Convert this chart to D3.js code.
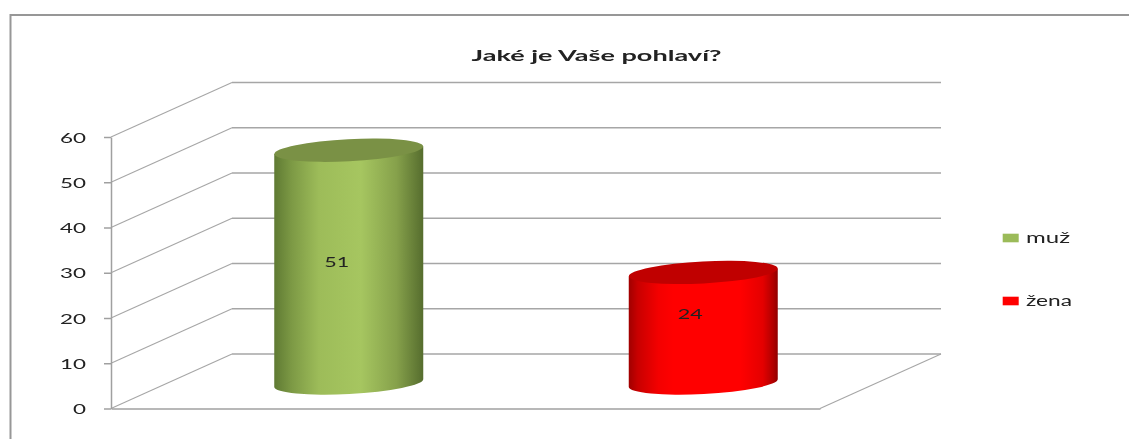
<!DOCTYPE html>
<html>
<head>
<meta charset="utf-8">
<script src="https://cdn.jsdelivr.net/npm/d3@7"></script>
<style>
    html, body { margin: 0; padding: 0; background: #fff; overflow: hidden; }
    svg { display: block; filter: blur(0.5px); }
    text { font-family: Lato, "DejaVu Sans", sans-serif; fill: #222; }
</style>
</head>
<body>
<div id="grafico"></div>
<script>
const titleText = "Jaké je Vaše pohlaví?";
const categories = ["muž", "žena"];
const values = [51, 24];
const tickValues = [0, 10, 20, 30, 40, 50, 60];
const sideColors = [
    [[0, "#5f7a33"], [12, "#7d9a45"], [30, "#9dbc59"], [58, "#a6c660"], [82, "#86a14b"], [100, "#566d2e"]],
    [[0, "#a00000"], [6, "#c80000"], [20, "#f40000"], [30, "#ff0000"], [75, "#ff0000"], [90, "#e40000"], [97, "#b00000"], [100, "#900000"]]
];
const topColors = ["#7a9145", "#c00000"];
const legendColors = ["#9bbb59", "#ff0000"];

const width = 1129;
const height = 439;
const depthX = 121;
const depthY = 54.5;
const digitWidth = 13;

const svg = d3.select('#grafico').append('svg')
    .attr('width', width)
    .attr('height', height);

// Escalas
const yScale = d3.scaleLinear().domain([0, 60]).range([408.5, 137]);
const xScale = d3.scaleBand().domain(categories).range([111, 820]);

// Marco
svg.append('path')
    .attr('d', d3.line()([[10.5, height], [10.5, 15], [width, 15]]))
    .attr('fill', 'none')
    .attr('stroke', '#979797')
    .attr('stroke-width', 2);

// Rejilla
const grid = svg.append('g')
    .attr('fill', 'none')
    .attr('stroke', '#a6a6a6');

grid.selectAll('.slant')
    .data(tickValues)
    .enter()
    .append('path')
    .attr('class', 'slant')
    .attr('stroke-width', 1.1)
    .attr('d', d => d3.line()([
        [111, yScale(d)],
        [111 + depthX, yScale(d) - depthY]
    ]));

grid.selectAll('.back')
    .data(tickValues)
    .enter()
    .append('path')
    .attr('class', 'back')
    .attr('stroke-width', 1.6)
    .attr('d', d => d3.line()([
        [111 + depthX, yScale(d) - depthY],
        [820 + depthX, yScale(d) - depthY]
    ]));

grid.append('path')
    .attr('stroke-width', 1.1)
    .attr('d', d3.line()([
        [820, yScale(0)],
        [820 + depthX, yScale(0) - depthY]
    ]));

// Eje y
const yAxis = d3.axisLeft(yScale)
    .tickValues(tickValues)
    .tickSize(7)
    .tickSizeOuter(0);

const axisG = svg.append('g')
    .attr('transform', 'translate(111, 0)')
    .call(yAxis);
axisG.selectAll('line, path').attr('stroke', '#a0a0a0').attr('stroke-width', 1.5);
axisG.selectAll('text')
    .attr('x', -25)
    .attr('dy', '0.36em')
    .attr('font-size', 14)
    .attr('fill', '#222')
    .attr('lengthAdjust', 'spacingAndGlyphs')
    .attr('textLength', d => String(d).length * digitWidth);

// Eje x, solo la linea frontal
const xAxis = d3.axisBottom(xScale).tickSize(0).tickFormat('');
svg.append('g')
    .attr('transform', `translate(0, ${yScale(0)})`)
    .call(xAxis)
    .select('path')
    .attr('stroke', '#a0a0a0')
    .attr('stroke-width', 1.5);

// Cilindros
const defs = svg.append('defs');
const barWidth = 149;
const rx = barWidth / 2;
const ry = 11;
const tilt = -3;
const tiltY = rx * Math.sin(-tilt * Math.PI / 180);
const labelX = [-12, -13];
const labelY = [267, 319];
const legendY = [238, 301];
const legendWidth = [44, 46];

categories.forEach((c, i) => {
    const grad = defs.append('linearGradient')
        .attr('id', `side${i}`)
        .attr('x1', 0).attr('x2', 1).attr('y1', 0).attr('y2', 0);
    sideColors[i].forEach(s => {
        grad.append('stop').attr('offset', s[0] + '%').attr('stop-color', s[1]);
    });

    const cx = xScale(c) + xScale.bandwidth() / 2 + depthX / 2;
    const base = yScale(0) - 25.5;
    const top = yScale(values[i]) - 27.5;
    const left = cx - rx;
    const right = cx + rx;

    svg.append('path')
        .attr('fill', `url(#side${i})`)
        .attr('d', `M${left},${top + tiltY} L${left},${base + tiltY}
            A${rx},${ry} ${tilt} 0 0 ${right},${base - tiltY}
            L${right},${top - tiltY} Z`);

    svg.append('ellipse')
        .attr('rx', rx)
        .attr('ry', ry)
        .attr('transform', `translate(${cx}, ${top}) rotate(${tilt})`)
        .attr('fill', topColors[i]);

    // Valor
    svg.append('text')
        .attr('x', cx + labelX[i])
        .attr('y', labelY[i])
        .attr('text-anchor', 'middle')
        .attr('font-size', 14)
        .attr('fill', '#111')
        .attr('lengthAdjust', 'spacingAndGlyphs')
        .attr('textLength', 25)
        .text(values[i]);

    // Leyenda
    svg.append('rect')
        .attr('x', 1002.7)
        .attr('y', legendY[i] - 4.3)
        .attr('width', 16)
        .attr('height', 8.6)
        .attr('fill', legendColors[i]);
    svg.append('text')
        .attr('x', 1026)
        .attr('y', legendY[i] + 4.5)
        .attr('font-size', 14.5)
        .attr('lengthAdjust', 'spacingAndGlyphs')
        .attr('textLength', legendWidth[i])
        .text(c);
});

// Titulo
svg.append('text')
    .attr('x', 596.5)
    .attr('y', 61)
    .attr('text-anchor', 'middle')
    .attr('font-size', 15)
    .attr('font-weight', 'bold')
    .attr('fill', '#111')
    .attr('lengthAdjust', 'spacingAndGlyphs')
    .attr('textLength', 250)
    .text(titleText);
</script>
</body>
</html>
